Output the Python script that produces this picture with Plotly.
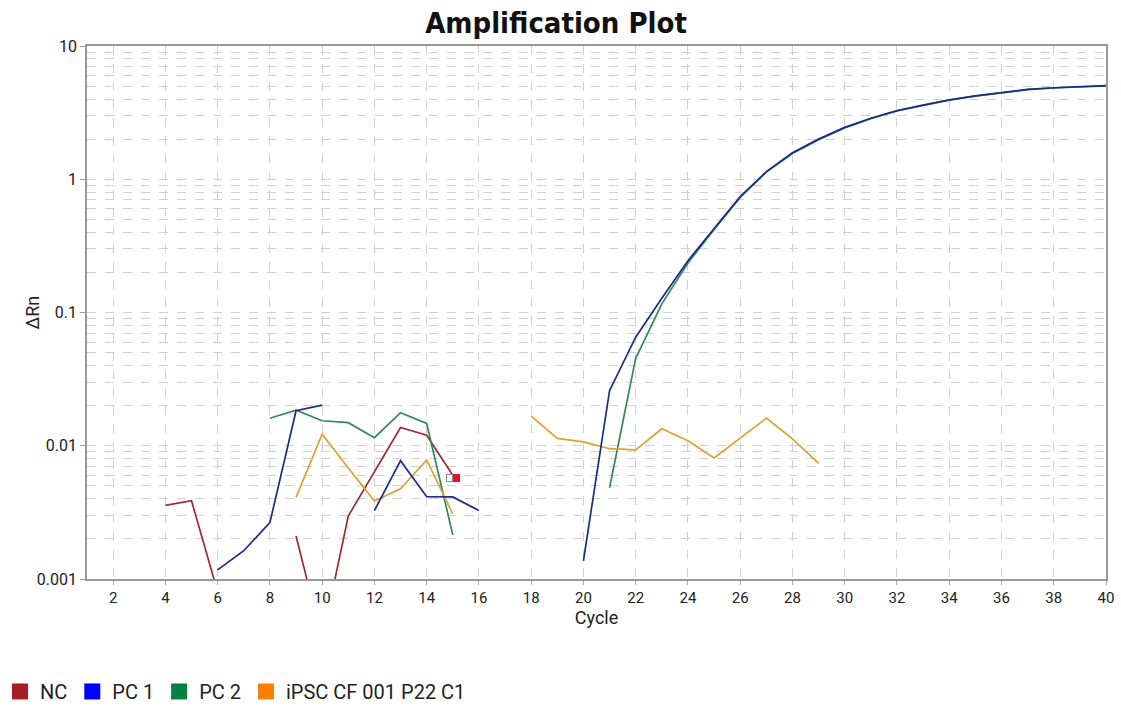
import plotly.graph_objects as go
import math

cycles = list(range(1, 41))

nc = [None, None, None, 0.00357, 0.00387, 0.0008, None, None, 0.0021, 0.00035,
      0.00297, 0.0064, 0.0137, 0.0120, 0.0060] + [None] * 25

pc1 = [None, None, None, None, None, 0.00117, 0.00163, 0.00265, 0.0183, 0.0202,
       None, 0.00326, 0.00773, 0.00415, 0.00413, 0.00326, None, None, None, 0.00137,
       0.0259, 0.0652, 0.128, 0.245, 0.43, 0.74, 1.14, 1.58, 2.0, 2.45,
       2.87, 3.27, 3.6, 3.94, 4.22, 4.49, 4.73, 4.86, 4.95, 5.04]

pc2 = [None, None, None, None, None, None, None, 0.0161, 0.0185, 0.0154,
       0.0149, 0.0115, 0.0177, 0.0147, 0.00214, None, None, None, None, None,
       0.00484, 0.0453, 0.116, 0.235, 0.42, 0.73, 1.13, 1.56, 1.98, 2.43,
       2.85, 3.25, 3.58, 3.92, 4.2, 4.47, 4.7, 4.84, 4.93, 5.02]

ipsc = [None] * 8 + [0.0041, 0.0122, 0.0068, 0.00385, 0.00476, 0.00782, 0.00308,
       None, None, 0.0167, 0.01137, 0.0107, 0.0095, 0.0093, 0.0134, 0.0109,
       0.0081, 0.0114, 0.0161, 0.01125, 0.00738] + [None] * 11

names = ["NC", "PC 1", "PC 2", "iPSC CF 001 P22 C1"]
line_colors = ["#9b2d30", "#1c2a8a", "#2e8b57", "#e0a030"]
legend_colors = ["#a51c24", "#0000ff", "#0a8040", "#ff8000"]
x_ticks = list(range(2, 41, 2))
y_ticks = [0.001, 0.01, 0.1, 1, 10]
y_ticktext = ["0.001", "0.01", "0.1", "1", "10"]

fig = go.Figure()
series = {"NC": nc, "PC 1": pc1, "PC 2": pc2, "iPSC CF 001 P22 C1": ipsc}
order = ["NC", "PC 2", "iPSC CF 001 P22 C1", "PC 1"]
for nm in order:
    i = names.index(nm)
    fig.add_trace(go.Scatter(x=cycles, y=series[nm], mode="lines", name=nm,
                             line=dict(color=line_colors[i], width=1.7),
                             connectgaps=False, showlegend=False))

for i, nm in enumerate(names):
    fig.add_trace(go.Scatter(x=[None], y=[None], mode="markers", name=nm,
                             marker=dict(symbol="square", size=18, color=legend_colors[i]),
                             showlegend=True))

# flag marker at end of NC curve
last_nc_idx = max(k for k, v in enumerate(nc) if v is not None)
fx, fy = cycles[last_nc_idx], math.log10(nc[last_nc_idx])
fig.add_annotation(x=fx, y=fy, xref="x", yref="y", text="", showarrow=False,
                   width=5, height=6, bgcolor="white", bordercolor="#888",
                   borderwidth=1, borderpad=0, xshift=-3, yshift=-3)
fig.add_annotation(x=fx, y=fy, xref="x", yref="y", text="", showarrow=False,
                   width=5, height=6, bgcolor="#e8131b", bordercolor="#e8131b",
                   borderwidth=1, borderpad=0, xshift=4, yshift=-3)

# y-axis title
fig.add_annotation(xref="paper", yref="paper", x=-0.053, y=0.5, text="ΔRn",
                   textangle=-90, showarrow=False, xanchor="center", yanchor="middle",
                   font=dict(family="Roboto", size=18, color="#222"))

grid = "#d0d0d0"
fig.update_layout(
    width=1121, height=707,
    margin=dict(l=87, r=15, t=46, b=128, autoexpand=False),
    paper_bgcolor="white", plot_bgcolor="white",
    title=dict(text="<b>Amplification Plot</b>", x=0.496, xanchor="center",
               y=0.968, yanchor="middle",
               font=dict(family="DejaVu Sans Condensed", size=29, color="#111")),
    font=dict(family="Roboto", color="#222"),
    legend=dict(orientation="h", xref="container", x=0.0, xanchor="left",
                yref="container", y=0.022, yanchor="middle",
                font=dict(size=20, color="#222"), itemsizing="trace",
                tracegroupgap=0, itemwidth=30),
    showlegend=True,
)
fig.update_xaxes(
    range=[1, 40], tickvals=x_ticks, ticks="outside", ticklen=4, tickcolor="#aaa",
    showgrid=True, gridcolor=grid, griddash="dash", gridwidth=1, automargin=False,
    showline=True, linecolor="#999", linewidth=1.5, mirror=True, zeroline=False,
    tickfont=dict(size=15, color="#222"),
    title=dict(text="Cycle", font=dict(size=18, color="#222"), standoff=6),
)
fig.update_yaxes(
    type="log", range=[-3, 1], tickvals=y_ticks, ticktext=y_ticktext,
    ticks="outside", ticklen=5, tickcolor="#999", automargin=False,
    showgrid=True, gridcolor=grid, griddash="dash", gridwidth=1,
    minor=dict(dtick="D1", showgrid=True, gridcolor=grid, griddash="dash", ticks=""),
    showline=True, linecolor="#999", linewidth=1.5, mirror=True, zeroline=False,
    tickfont=dict(size=16, color="#222"),
)

fig.write_html("out.html")
